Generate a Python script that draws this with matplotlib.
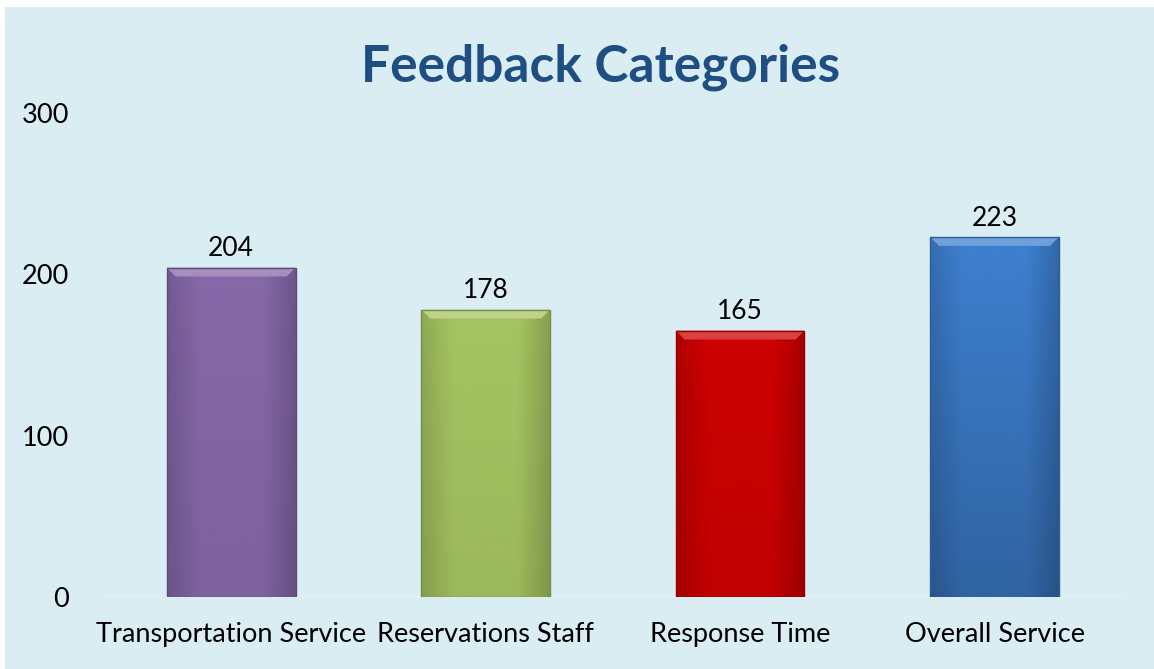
import numpy as np
import matplotlib.pyplot as plt
from matplotlib.patches import Rectangle, Polygon
from matplotlib.colors import LinearSegmentedColormap

# data
categories = ['Transportation Service', 'Reservations Staff', 'Response Time', 'Overall Service']
counts = [204, 178, 165, 223]
bar_colors = ['#8668A8', '#A5C461', '#CC0202', '#3E80D0']
base_dark = [0.06, 0.06, 0.06, 0.22]   # how much each bar darkens towards its base
yticks = [0, 100, 200, 300]

bg = '#DAEDF3'
plt.rcParams['font.family'] = ['Lato', 'DejaVu Sans']

fig = plt.figure(figsize=(11.54, 6.69), dpi=100)
fig.patch.set_facecolor('white')
fig.add_artist(Rectangle((5 / 1154, 0), 1, 1 - 7 / 669, transform=fig.transFigure,
                         facecolor=bg, edgecolor='none', zorder=-10))

ax = fig.add_axes([0.0901, 0.1076, 0.882, 0.724])
ax.set_facecolor('none')

x = np.arange(len(categories))
width = 0.506
bars = ax.bar(x, counts, width=width, color=bar_colors, edgecolor='none', zorder=2)


def shade(c, f):
    c = np.array(plt.matplotlib.colors.to_rgb(c))
    if f > 1:
        return tuple(c + (1 - c) * (f - 1))
    return tuple(c * f)


# soft bevel look like the office-style chart
for b, col, dk in zip(bars, bar_colors, base_dark):
    x0, w, h = b.get_x(), b.get_width(), b.get_height()
    cmap = LinearSegmentedColormap.from_list('g', [shade(col, 0.86), col, col, col, shade(col, 0.82)])
    grad = np.linspace(0, 1, 200).reshape(1, -1)
    im = ax.imshow(grad, extent=(x0, x0 + w, 0, h), aspect='auto', cmap=cmap, zorder=3)
    im.set_clip_path(b)
    vcmap = LinearSegmentedColormap.from_list('v', [(0, 0, 0, dk), (0, 0, 0, 0.0)])
    vg = np.linspace(0, 1, 200).reshape(-1, 1)
    im2 = ax.imshow(vg, extent=(x0, x0 + w, 0, h), aspect='auto', cmap=vcmap,
                    origin='lower', zorder=3.5)
    im2.set_clip_path(b)
    bx, by = 0.035, 5.5
    top = Polygon([(x0, h), (x0 + w, h), (x0 + w - bx, h - by), (x0 + bx, h - by)],
                  closed=True, facecolor=shade(col, 1.25), edgecolor='none', zorder=4)
    ax.add_patch(top)
    ax.add_patch(Rectangle((x0, 0), w, h, facecolor='none', edgecolor=shade(col, 0.72),
                           linewidth=1.0, zorder=5))
    ax.text(x0 + w / 2, h + 4, str(h), ha='center', va='bottom', fontsize=19, zorder=6)

ax.set_xlim(-0.5, len(categories) - 0.5)
ax.set_ylim(0, 300)
ax.set_yticks(yticks)
ax.set_xticks(x)
ax.set_xticklabels(categories, fontsize=19.5)
ax.tick_params(axis='y', labelsize=19.5, length=0, pad=25)
ax.tick_params(axis='x', length=0, pad=18)
for s in ax.spines.values():
    s.set_visible(False)
ax.axhline(0, color='#EAF3F6', linewidth=2, zorder=1)

fig.text(0.52, 0.9, 'Feedback Categories', ha='center', va='center', fontsize=37,
         fontweight='bold', color='#1F4E82')

fig.savefig('out.png', dpi=100, facecolor=fig.get_facecolor())
